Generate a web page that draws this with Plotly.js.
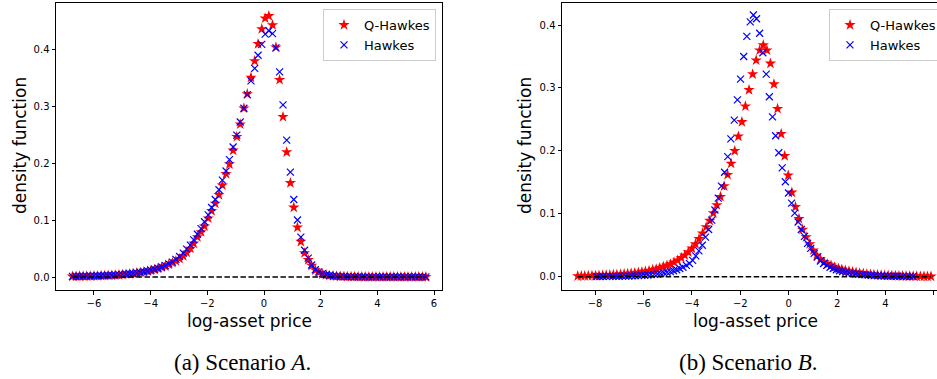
<!DOCTYPE html>
<html><head><meta charset="utf-8">
<script src="https://cdn.plot.ly/plotly-3.0.1.min.js"></script>
<style>html,body{margin:0;padding:0;background:#fff}#chart{width:937px;height:379px}</style>
</head><body><div id="chart"></div>
<script>
// ---------- Scenario A ----------
const xA = [-6.76,-6.63,-6.51,-6.38,-6.26,-6.13,-6.00,-5.88,-5.75,-5.63,-5.50,-5.37,-5.25,-5.12,-5.00,-4.87,-4.74,-4.62,-4.49,-4.37,
-4.24,-4.11,-3.99,-3.86,-3.74,-3.61,-3.48,-3.36,-3.23,-3.11,-2.98,-2.85,-2.73,-2.60,-2.48,-2.35,-2.22,-2.10,-1.97,-1.85,
-1.72,-1.59,-1.47,-1.34,-1.22,-1.09,-0.96,-0.84,-0.71,-0.59,-0.46,-0.33,-0.21,-0.08,0.04,0.17,0.30,0.42,0.55,0.67,
0.80,0.93,1.05,1.18,1.30,1.43,1.56,1.68,1.81,1.93,2.06,2.19,2.31,2.44,2.56,2.69,2.82,2.94,3.07,3.19,
3.32,3.45,3.57,3.70,3.82,3.95,4.08,4.20,4.33,4.45,4.58,4.71,4.83,4.96,5.08,5.21,5.34,5.46,5.59,5.71];
const qHawkesA = [0.0010,0.0011,0.0012,0.0013,0.0014,0.0015,0.0017,0.0019,0.0021,0.0023,
0.0026,0.0029,0.0033,0.0037,0.0042,0.0048,0.0054,0.0061,0.0069,0.0078,
0.0088,0.0100,0.0115,0.0130,0.0150,0.0170,0.0190,0.0220,0.0250,0.0280,
0.032,0.037,0.043,0.050,0.059,0.070,0.079,0.089,0.103,0.116,
0.129,0.144,0.161,0.181,0.198,0.222,0.246,0.268,0.296,0.321,
0.350,0.379,0.409,0.435,0.454,0.458,0.442,0.403,0.346,0.281,
0.219,0.165,0.122,0.087,0.062,0.042,0.030,0.020,0.012,0.008,
0.005,0.0035,0.0025,0.0018,0.0013,0.0010,0.0008,0.0006,0.0005,0.0004,
0.0003,0.0003,0.0002,0.0002,0.0002,0.0001,0.0001,0.0001,0.0001,0.0001,
0.0001,0.0001,0.0001,0.0001,0.0001,0.0001,0.0001,0.0001,0.0001,0.0001];
const hawkesA = [0.0012,0.0013,0.0014,0.0015,0.0016,0.0018,0.0020,0.0022,0.0024,0.0027,
0.0030,0.0033,0.0037,0.0041,0.0046,0.0052,0.0058,0.0065,0.0073,0.0083,
0.0094,0.0106,0.0120,0.0136,0.0154,0.0175,0.0200,0.0230,0.0260,0.0310,
0.036,0.042,0.049,0.056,0.065,0.075,0.085,0.097,0.109,0.122,
0.136,0.153,0.170,0.186,0.206,0.228,0.249,0.272,0.296,0.320,
0.344,0.366,0.389,0.408,0.426,0.432,0.427,0.402,0.360,0.302,
0.240,0.184,0.136,0.100,0.070,0.047,0.033,0.021,0.013,0.009,
0.006,0.004,0.003,0.002,0.0015,0.0011,0.0009,0.0007,0.0006,0.0005,
0.0004,0.0003,0.0003,0.0002,0.0002,0.0002,0.0002,0.0001,0.0001,0.0001,
0.0001,0.0001,0.0001,0.0001,0.0001,0.0001,0.0001,0.0001,0.0001,0.0001];

// ---------- Scenario B ----------
const xQB = [-8.72,-8.57,-8.43,-8.28,-8.13,-7.98,-7.84,-7.69,-7.54,-7.39,-7.245,-7.10,-6.95,-6.80,-6.655,-6.51,-6.36,-6.21,-6.065,-5.92,
-5.77,-5.62,-5.475,-5.33,-5.18,-5.03,-4.885,-4.74,-4.59,-4.44,-4.295,-4.15,-4.00,-3.85,-3.705,-3.56,-3.41,-3.26,-3.115,-2.97,
-2.82,-2.67,-2.525,-2.38,-2.23,-2.08,-1.935,-1.79,-1.64,-1.49,-1.345,-1.20,-1.05,-0.90,-0.755,-0.61,-0.46,-0.31,-0.165,-0.02,
0.13,0.28,0.425,0.57,0.72,0.87,1.015,1.16,1.31,1.46,1.605,1.75,1.90,2.05,2.195,2.34,2.49,2.64,2.785,2.93,
3.08,3.23,3.375,3.52,3.67,3.82,3.965,4.11,4.26,4.41,4.555,4.70,4.85,5.00,5.145,5.29,5.44,5.59,5.735,5.88];
const qHawkesB = [0.0010,0.0011,0.0012,0.0014,0.0015,0.0017,0.0019,0.0021,0.0024,0.0027,
0.0030,0.0033,0.0037,0.0042,0.0047,0.0053,0.0060,0.0067,0.0075,0.0085,
0.0095,0.011,0.012,0.014,0.016,0.018,0.020,0.023,0.026,0.030,
0.034,0.039,0.045,0.052,0.060,0.069,0.079,0.089,0.101,0.114,
0.127,0.144,0.162,0.180,0.200,0.223,0.246,0.271,0.297,0.322,
0.344,0.360,0.368,0.360,0.339,0.306,0.267,0.227,0.192,0.161,
0.134,0.111,0.092,0.075,0.063,0.052,0.042,0.034,0.028,0.023,
0.020,0.018,0.015,0.013,0.0115,0.010,0.0088,0.0076,0.0066,0.0057,
0.0050,0.0043,0.0037,0.0032,0.0028,0.0024,0.0021,0.0018,0.0016,0.0014,
0.0012,0.0010,0.0009,0.0008,0.0007,0.0006,0.0005,0.0005,0.0004,0.0004];
const xHB = [-7.93,-7.80,-7.67,-7.53,-7.40,-7.27,-7.14,-7.01,-6.87,-6.74,-6.61,-6.48,-6.35,-6.21,-6.08,-5.95,-5.82,-5.69,-5.55,-5.42,
-5.29,-5.16,-5.03,-4.89,-4.76,-4.63,-4.50,-4.37,-4.23,-4.10,-3.97,-3.84,-3.71,-3.57,-3.44,-3.31,-3.18,-3.05,-2.91,-2.78,
-2.65,-2.52,-2.39,-2.25,-2.12,-1.99,-1.86,-1.73,-1.59,-1.46,-1.33,-1.20,-1.07,-0.93,-0.80,-0.67,-0.54,-0.41,-0.27,-0.14,
-0.01,0.12,0.25,0.39,0.52,0.65,0.78,0.91,1.05,1.18,1.31,1.44,1.57,1.71,1.84,1.97,2.10,2.23,2.37,2.50,
2.63,2.76,2.89,3.03,3.16,3.29,3.42,3.55,3.69,3.82,3.95,4.08,4.21,4.35,4.48,4.61,4.74,4.87,5.01,5.14];
const hawkesB = [0.0003,0.0003,0.0004,0.0004,0.0005,0.0005,0.0006,0.0007,0.0008,0.0010,
0.0011,0.0013,0.0015,0.0017,0.0020,0.0023,0.0027,0.0032,0.0037,0.0043,
0.0050,0.0060,0.0070,0.0080,0.0095,0.011,0.013,0.015,0.018,0.021,
0.026,0.033,0.041,0.050,0.063,0.075,0.090,0.106,0.125,0.144,
0.166,0.191,0.219,0.249,0.281,0.314,0.350,0.382,0.405,0.416,
0.410,0.387,0.356,0.322,0.286,0.254,0.224,0.197,0.173,0.151,
0.133,0.117,0.101,0.087,0.075,0.064,0.053,0.045,0.037,0.031,
0.025,0.021,0.018,0.015,0.013,0.011,0.0095,0.0082,0.0070,0.0060,
0.0052,0.0045,0.0039,0.0034,0.0029,0.0025,0.0022,0.0019,0.0016,0.0014,
0.0012,0.0010,0.0009,0.0008,0.0007,0.0006,0.0005,0.0005,0.0004,0.0004];

// ---------- labels / ticks ----------
const seriesNames = ['Q-Hawkes', 'Hawkes'];
const xTicksA = [-6, -4, -2, 0, 2, 4, 6];
const xTicksB = [-8, -6, -4, -2, 0, 2, 4, 6];
const yTicks = [0.0, 0.1, 0.2, 0.3, 0.4];
const xTitle = 'log-asset price';
const yTitle = 'density function';
const captions = ['(a) Scenario <i>A</i>.', '(b) Scenario <i>B</i>.'];

const W = 937, H = 379;
const px = v => v / W, py = v => 1 - v / H;

function starTrace(x, y, xa, ya, lg) {
  return {x: x, y: y, xaxis: xa, yaxis: ya, type: 'scatter', mode: 'markers', name: seriesNames[0], legend: lg,
    marker: {symbol: 'star', size: 8.5, color: '#ff0000', line: {width: 0}}};
}
function xTrace(x, y, xa, ya, lg) {
  return {x: x, y: y, xaxis: xa, yaxis: ya, type: 'scatter', mode: 'markers', name: seriesNames[1], legend: lg,
    marker: {symbol: 'x-thin-open', size: 7, color: '#0000ff', line: {color: '#0000ff', width: 1.2}}};
}
function zeroTrace(xs, xa, ya) {
  const lo = Math.min.apply(null, xs), hi = Math.max.apply(null, xs);
  return {x: [lo, hi], y: [0, 0], xaxis: xa, yaxis: ya, type: 'scatter', mode: 'lines', showlegend: false,
    hoverinfo: 'skip', line: {color: '#000', width: 1.4, dash: '5.5px,2.5px'}};
}

const data = [
  starTrace(xA, qHawkesA, 'x', 'y', 'legend'),
  xTrace(xA, hawkesA, 'x', 'y', 'legend'),
  zeroTrace(xA, 'x', 'y'),
  starTrace(xQB, qHawkesB, 'x2', 'y2', 'legend2'),
  xTrace(xHB, hawkesB, 'x2', 'y2', 'legend2'),
  zeroTrace(xQB.concat(xHB), 'x2', 'y2')
];

const axisCommon = {
  ticks: 'outside', ticklen: 3.5, tickwidth: 1, tickcolor: '#000',
  showline: true, linecolor: '#000', linewidth: 1,
  showgrid: false, zeroline: false,
  tickfont: {family: 'DejaVu Sans', size: 10, color: '#000'}
};
const yDomain = [py(290), py(3)];

const legendCommon = {
  xanchor: 'left', yanchor: 'top', bgcolor: 'rgba(255,255,255,0.85)',
  bordercolor: '#cccccc', borderwidth: 1,
  font: {family: 'DejaVu Sans', size: 13, color: '#000'}, tracegroupgap: 0
};

const annFont = {family: 'DejaVu Sans', size: 17, color: '#000'};
const capFont = {family: 'Liberation Serif', size: 23, color: '#000'};
const ann = (text, x, y, font, angle) => ({text: text, x: px(x), y: py(y), xref: 'paper', yref: 'paper',
  showarrow: false, xanchor: 'center', yanchor: 'middle', font: font, textangle: angle || 0});

const layout = {
  width: W, height: H,
  margin: {l: 0, r: 0, t: 0, b: 0, autoexpand: false},
  paper_bgcolor: '#fff', plot_bgcolor: '#fff',
  font: {family: 'DejaVu Sans', size: 10, color: '#000'},
  xaxis: Object.assign({}, axisCommon, {domain: [px(56), px(442)], range: [-7.34, 6.28], tickvals: xTicksA, anchor: 'y', mirror: true}),
  yaxis: Object.assign({}, axisCommon, {domain: yDomain, range: [-0.0228, 0.4807], tickvals: yTicks, tickformat: '.1f', anchor: 'x', mirror: true}),
  xaxis2: Object.assign({}, axisCommon, {domain: [px(562), 1], range: [-9.368, 6.128], tickvals: xTicksB, anchor: 'y2', mirror: true}),
  yaxis2: Object.assign({}, axisCommon, {domain: yDomain, range: [-0.02115, 0.4351], tickvals: yTicks, tickformat: '.1f', anchor: 'x2', mirror: false}),
  legend: Object.assign({}, legendCommon, {x: px(323), y: py(9)}),
  legend2: Object.assign({}, legendCommon, {x: px(829), y: py(9)}),
  annotations: [
    ann(xTitle, 249, 321, annFont),
    ann(xTitle, 755, 321, annFont),
    ann(yTitle, 20, 146, annFont, -90),
    ann(yTitle, 525, 146, annFont, -90),
    ann(captions[0], 243, 362, capFont),
    ann(captions[1], 748, 362, capFont)
  ],
  showlegend: true
};

Plotly.newPlot('chart', data, layout, {staticPlot: true, displayModeBar: false});
</script>
</body></html>
